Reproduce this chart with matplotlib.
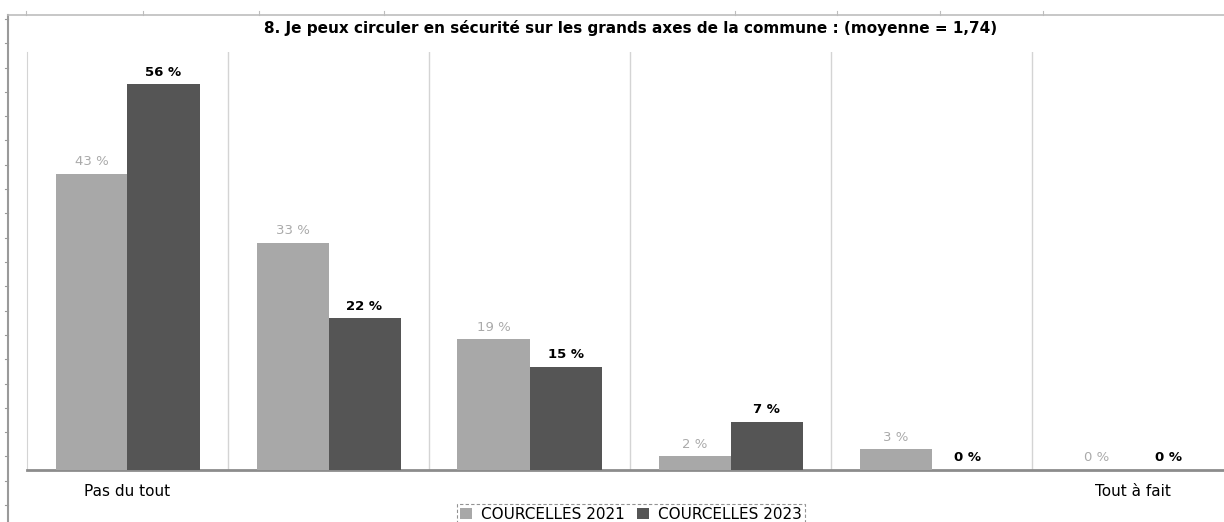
import matplotlib
matplotlib.use("Agg")
import matplotlib.pyplot as plt
from matplotlib.lines import Line2D
from matplotlib.patches import Patch

categories = ["Pas du tout", "", "", "", "", "Tout à fait"]
series_names = ["COURCELLES 2021", "COURCELLES 2023"]
values_2021 = [43, 33, 19, 2, 3, 0]
values_2023 = [56, 22, 15, 7, 0, 0]
title = "8. Je peux circuler en sécurité sur les grands axes de la commune : (moyenne = 1,74)"

LIGHT = "#a8a8a8"
DARK = "#555555"

W, H = 1224, 522
fig = plt.figure(figsize=(W / 100, H / 100), dpi=100)

# outer frame decorations (ruler-like lines)
fig.add_artist(Line2D([8 / W, 8 / W], [0, 1 - 15 / H], color="#9a9a9a", lw=1.5))
fig.add_artist(Line2D([8 / W, 1], [1 - 15 / H, 1 - 15 / H], color="#bdbdbd", lw=1.2))
for k in range(22):
    y = 19 + 24.3 * k
    if y > 15:
        fig.add_artist(Line2D([5 / W, 8 / W], [1 - y / H, 1 - y / H], color="#9a9a9a", lw=0.8))
for x in [26, 143, 259, 384, 735, 837, 940, 1043]:
    fig.add_artist(Line2D([x / W, x / W], [1 - 15 / H, 1 - 11 / H], color="#bdbdbd", lw=0.8))

left, right, top, bottom = 27, 1224, 52, 470
ax = fig.add_axes([left / W, 1 - bottom / H, (right - left) / W, (bottom - top) / H])
ymax = (bottom - top) / 6.89
ax.set_ylim(0, ymax)
ax.set_xlim(0, (right - left) / 201)

n = len(categories)
bw = 72 / 201
centers = [i + 0.5 for i in range(n)]
ax.bar([c - bw / 2 for c in centers], values_2021, width=bw, color=LIGHT, zorder=3)
ax.bar([c + bw / 2 for c in centers], values_2023, width=bw, color=DARK, zorder=3)

# separators
for i in range(1, n):
    ax.axvline(i, color="#d4d4d4", lw=1, zorder=1)

for c, v in zip(centers, values_2021):
    ax.annotate(f"{v} %", (c - bw / 2, v), xytext=(0, 4), textcoords="offset points",
                ha="center", va="bottom", fontsize=9.5, color="#aaaaaa")
for c, v in zip(centers, values_2023):
    ax.annotate(f"{v} %", (c + bw / 2, v), xytext=(0, 4), textcoords="offset points",
                ha="center", va="bottom", fontsize=9.5, color="black", fontweight="bold")

for s in ["top", "right"]:
    ax.spines[s].set_visible(False)
ax.spines["left"].set_color("#d4d4d4")
ax.spines["bottom"].set_color("#8c8c8c")
ax.spines["bottom"].set_linewidth(2)
ax.set_yticks([])
ax.set_xticks([centers[0], centers[-1]])
ax.set_xticklabels([categories[0], categories[-1]], fontsize=11)
ax.tick_params(axis="x", length=0, pad=10)

fig.text((left + 1234) / 2 / W, 1 - 28 / H, title, ha="center", va="center",
         fontsize=11, fontweight="bold")

handles = [Patch(facecolor=LIGHT, label=series_names[0]),
           Patch(facecolor=DARK, label=series_names[1])]
leg = fig.legend(handles=handles, loc="upper center", bbox_to_anchor=(631 / W, 1 - 496 / H),
                 ncol=2, frameon=True, fontsize=11, handlelength=0.8, handleheight=0.8,
                 handletextpad=0.6, columnspacing=0.8, borderpad=0.2, fancybox=False)
leg.get_frame().set_edgecolor("#777777")
leg.get_frame().set_linestyle((0, (3, 2)))
leg.get_frame().set_linewidth(0.8)

fig.savefig("out.png", dpi=100)
